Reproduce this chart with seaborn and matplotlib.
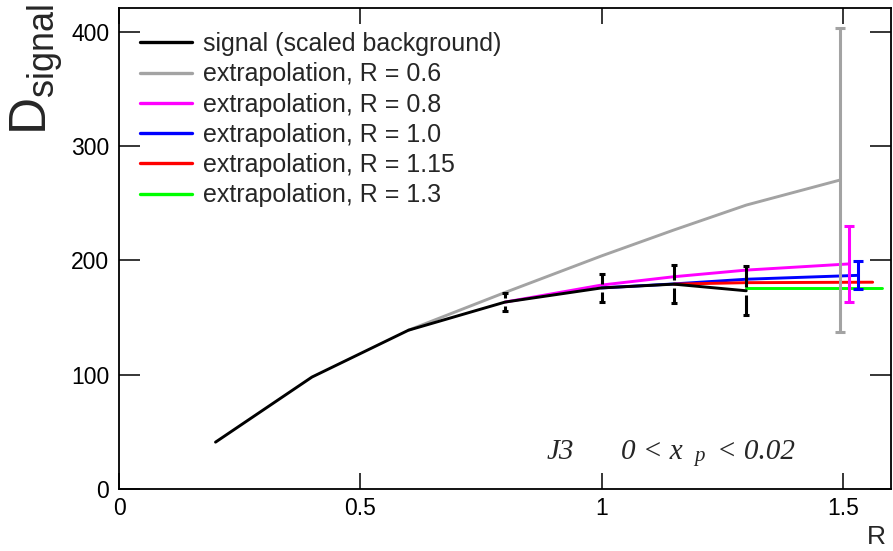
import numpy as np
import pandas as pd
import matplotlib
matplotlib.use("Agg")
import matplotlib.pyplot as plt
import seaborn as sns

# ---------------- data ----------------
R_signal = [0.2, 0.4, 0.6, 0.8, 1.0, 1.15, 1.3]
D_signal = [41, 98, 139, 163.6, 176, 179.3, 173.5]
err_signal = [0, 0, 0, 8, 12.5, 16.5, 21.5]

R_ext06 = [0.6, 0.8, 1.0, 1.15, 1.3, 1.495]
D_ext06 = [139, 172, 204, 226.7, 248.5, 270.5]
R_ext08 = [0.8, 1.0, 1.15, 1.3, 1.513]
D_ext08 = [163.6, 178.5, 185.8, 191.6, 197]
R_ext10 = [1.0, 1.15, 1.3, 1.532]
D_ext10 = [176, 179.5, 183.6, 187]
R_ext115 = [1.15, 1.3, 1.562]
D_ext115 = [179.3, 180.6, 181]
R_ext13 = [1.3, 1.582]
D_ext13 = [175.5, 175.5]

# uncertainty at the end of each extrapolation
end_err = [133, 33.5, 12.3, 0, 0]

labels = ["signal (scaled background)",
          "extrapolation, R = 0.6",
          "extrapolation, R = 0.8",
          "extrapolation, R = 1.0",
          "extrapolation, R = 1.15",
          "extrapolation, R = 1.3"]
colors = ["#000000", "#a3a3a3", "#ff00ff", "#0000ff", "#ff0000", "#00ff00"]

x_ticks = [0, 0.5, 1, 1.5]
x_ticklabels = ["0", "0.5", "1", "1.5"]
y_ticks = [0, 100, 200, 300, 400]
y_ticklabels = ["0", "100", "200", "300", "400"]

# ---------------- style ----------------
sns.set_theme(style="ticks")
plt.rcParams["font.family"] = ["Liberation Sans", "DejaVu Sans"]
plt.rcParams["mathtext.fontset"] = "custom"
plt.rcParams["mathtext.rm"] = "Liberation Sans"
plt.rcParams["mathtext.it"] = "Liberation Sans"
plt.rcParams.update({
    "xtick.direction": "in", "ytick.direction": "in",
    "xtick.top": True, "xtick.bottom": True,
    "ytick.left": True, "ytick.right": True,
    "xtick.major.size": 11.5, "ytick.major.size": 15,
    "xtick.major.width": 1.1, "ytick.major.width": 1.1,
    "xtick.color": "black", "ytick.color": "black",
    "xtick.minor.visible": False, "ytick.minor.visible": False,
})

fig = plt.figure(figsize=(8.93, 5.51), dpi=100)
ax = fig.add_axes([119 / 893, 1 - 489 / 551, 772 / 893, 481 / 551])

series_R = [R_signal, R_ext06, R_ext08, R_ext10, R_ext115, R_ext13]
series_D = [D_signal, D_ext06, D_ext08, D_ext10, D_ext115, D_ext13]
frames = []
for lab, rr, dd in zip(labels, series_R, series_D):
    frames.append(pd.DataFrame({"R": rr, "D": dd, "series": lab}))
df = pd.concat(frames, ignore_index=True)

# draw extrapolations first, signal last (on top)
draw_order = labels[1:] + labels[:1]
for lab in draw_order:
    sub = df[df["series"] == lab]
    sns.lineplot(data=sub, x="R", y="D", color=colors[labels.index(lab)],
                 linewidth=2.1, estimator=None, sort=False, ax=ax,
                 legend=False)

# signal error bars (with a gap around the point, ROOT style)
gap = 3.5
for r, d, e in zip(R_signal, D_signal, err_signal):
    if e > gap:
        ax.vlines([r, r], [d + gap, d - e], [d + e, d - gap], color="black", lw=2.2)
        ax.plot([r, r], [d + e, d - e], ls="none", marker="_", ms=5,
                mew=2.2, color="black")

# extrapolation end-point error bars
for rr, dd, e, c in zip(series_R[1:], series_D[1:], end_err, colors[1:]):
    if e > 0:
        ax.errorbar([rr[-1]], [dd[-1]], yerr=[e], color=c, lw=2.2,
                    capsize=3.4, capthick=2.2, ls="none")

# axes
ax.set_xlim(0, 1.6)
ax.set_ylim(0, 421)
ax.set_xticks(x_ticks)
ax.set_xticklabels(x_ticklabels, fontsize=16.5)
ax.set_yticks(y_ticks)
ax.set_yticklabels(y_ticklabels, fontsize=16.5)
ax.tick_params(axis="x", which="major", direction="in", length=11.5, width=1.1,
               top=True, bottom=True, pad=6)
ax.tick_params(axis="y", which="major", direction="in", length=15, width=1.1,
               left=True, right=True, pad=7)
ax.set_xlabel("")
ax.set_ylabel("")
for sp in ax.spines.values():
    sp.set_visible(True)
    sp.set_linewidth(1.3)
    sp.set_color("black")

# legend
handles = [plt.Line2D([], [], color=c, lw=2.4) for c in colors]
ax.legend(handles, labels, loc="upper left",
          bbox_to_anchor=(0.027, 0.950), frameon=False, borderaxespad=0,
          borderpad=0, fontsize=18, handlelength=2.08, handletextpad=0.44,
          labelspacing=0.25)

# axis titles
fig.text(8 / 893, 1 - 4 / 551, r"$\mathrm{D_{signal}}$", rotation=90,
         ha="left", va="top", fontsize=37)
fig.text(886 / 893, 1 - 549 / 551, "R", ha="right", va="bottom", fontsize=19)

# annotation
serif = dict(family=["Liberation Serif", "DejaVu Serif"], style="italic",
             fontsize=21)
yb = 1 - 459 / 551
fig.text(547 / 893, yb, "J3", ha="left", va="baseline", **serif)
fig.text(621 / 893, yb, "0 < x", ha="left", va="baseline", **serif)
fig.text(694 / 893, 1 - 461 / 551, "p", ha="left", va="baseline",
         family=["Liberation Serif", "DejaVu Serif"], style="italic",
         fontsize=15)
fig.text(717 / 893, yb, "< 0.02", ha="left", va="baseline", **serif)

fig.savefig("out.png", dpi=100)
